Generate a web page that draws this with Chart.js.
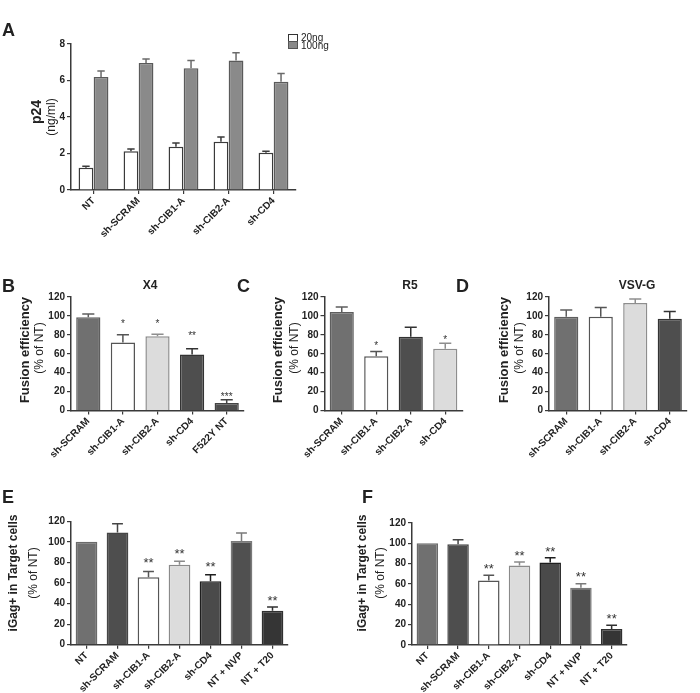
<!DOCTYPE html>
<html><head><meta charset="utf-8">
<script src="https://cdn.jsdelivr.net/npm/chart.js@4.4.1/dist/chart.umd.min.js"></script>
<style>
html,body{margin:0;padding:0;background:#fff;}
#wrap{position:relative;width:700px;height:693px;overflow:hidden;font-family:'Liberation Sans',Arial,sans-serif;color:#222;}
canvas{position:absolute;left:0;top:0;}
.lt{position:absolute;font-weight:bold;font-size:18px;line-height:1;}
.ttl{position:absolute;font-weight:bold;font-size:12px;line-height:1;transform:translate(-50%,-50%);white-space:nowrap;}
.yt{position:absolute;transform:translate(-50%,-50%) rotate(-90deg);white-space:nowrap;line-height:1;}
.leg{position:absolute;font-size:10px;line-height:1;white-space:nowrap;}
.box{position:absolute;width:8px;height:6px;border:1px solid #333;}
</style></head>
<body><div id="wrap">
<canvas id="cA" width="700" height="693"></canvas>
<canvas id="cB" width="700" height="693"></canvas>
<canvas id="cC" width="700" height="693"></canvas>
<canvas id="cD" width="700" height="693"></canvas>
<canvas id="cE" width="700" height="693"></canvas>
<canvas id="cF" width="700" height="693"></canvas>

<div class="lt" style="left:2px;top:21px">A</div>
<div class="lt" style="left:2px;top:277px">B</div>
<div class="lt" style="left:237px;top:277px">C</div>
<div class="lt" style="left:456px;top:277px">D</div>
<div class="lt" style="left:2px;top:488px">E</div>
<div class="lt" style="left:362px;top:488px">F</div>

<div class="ttl" style="left:150px;top:285px">X4</div>
<div class="ttl" style="left:410px;top:285px">R5</div>
<div class="ttl" style="left:637px;top:285px">VSV-G</div>

<div class="yt" style="left:36px;top:112px;font-weight:bold;font-size:14px">p24</div>
<div class="yt" style="left:51px;top:117px;font-size:12px">(ng/ml)</div>

<div class="yt" style="left:24px;top:350px;font-weight:bold;font-size:13px">Fusion efficiency</div>
<div class="yt" style="left:39px;top:348px;font-size:12px">(% of NT)</div>
<div class="yt" style="left:277px;top:350px;font-weight:bold;font-size:13px">Fusion efficiency</div>
<div class="yt" style="left:294px;top:348px;font-size:12px">(% of NT)</div>
<div class="yt" style="left:503px;top:350px;font-weight:bold;font-size:13px">Fusion efficiency</div>
<div class="yt" style="left:519px;top:348px;font-size:12px">(% of NT)</div>

<div class="yt" style="left:13px;top:573px;font-weight:bold;font-size:12px">iGag+ in Target cells</div>
<div class="yt" style="left:33px;top:573px;font-size:12px">(% of NT)</div>
<div class="yt" style="left:362px;top:573px;font-weight:bold;font-size:12px">iGag+ in Target cells</div>
<div class="yt" style="left:380px;top:573px;font-size:12px">(% of NT)</div>

<div class="box" style="left:288px;top:34px;background:#fff"></div>
<div class="box" style="left:288px;top:41px;background:#8a8a8a;border-color:#555"></div>
<div class="leg" style="left:301px;top:33px">20ng</div>
<div class="leg" style="left:301px;top:41px">100ng</div>
</div>
<script>
// ---------- DATA ----------
const catsA = ['NT', 'sh-SCRAM', 'sh-CIB1-A', 'sh-CIB2-A', 'sh-CD4'];
const seriesA20 = [1.22, 2.12, 2.37, 2.64, 2.04];
const errA20 = [1.30, 2.24, 2.57, 2.90, 2.13];
const seriesA100 = [6.19, 6.96, 6.67, 7.10, 5.93];
const errA100 = [6.52, 7.18, 7.09, 7.52, 6.38];
const ticksA = [0, 2, 4, 6, 8];

const catsB = ['sh-SCRAM', 'sh-CIB1-A', 'sh-CIB2-A', 'sh-CD4', 'F522Y NT'];
const valsB = [98.5, 72, 78.4, 59.3, 7.8];
const errB = [102, 80, 80.5, 65.3, 11.3];
const starsB = ['', '*', '*', '**', '***'];
const starPosB = [null, 93.7, 93.7, 81.8, 16.8];

const catsC = ['sh-SCRAM', 'sh-CIB1-A', 'sh-CIB2-A', 'sh-CD4'];
const valsC = [104.2, 57.3, 78, 65.4];
const errC = [109.5, 62.4, 88, 71];
const starsC = ['', '*', '', '*'];
const starPosC = [null, 71, null, 77.5];

const catsD = ['sh-SCRAM', 'sh-CIB1-A', 'sh-CIB2-A', 'sh-CD4'];
const valsD = [99.2, 99.2, 113.7, 97.1];
const errD = [106.2, 109, 117.9, 104.8];

const ticksPct = [0, 20, 40, 60, 80, 100, 120];

const catsE = ['NT', 'sh-SCRAM', 'sh-CIB1-A', 'sh-CIB2-A', 'sh-CD4', 'NT + NVP', 'NT + T20'];
const valsE = [100, 109, 65.5, 77.8, 61.8, 100.8, 33];
const errE = [null, 117.5, 71.3, 81.2, 68, 108.7, 36.7];
const starsE = ['', '', '**', '**', '**', '', '**'];
const starPosE = [null, null, 82.4, 91.4, 78.5, null, 45.7];

const catsF = ['NT', 'sh-SCRAM', 'sh-CIB1-A', 'sh-CIB2-A', 'sh-CD4', 'NT + NVP', 'NT + T20'];
const valsF = [100, 99, 63.5, 78.3, 81.2, 56.3, 15.8];
const errF = [null, 103.6, 68.7, 81.6, 85.9, 60.2, 19.4];
const starsF = ['', '', '**', '**', '**', '**', '**'];
const starPosF = [null, null, 78.3, 90.5, 94.7, 70, 29];

// ---------- STYLES ----------
const FONT = "'Liberation Sans', Arial, sans-serif";
const AX = '#3a3a3a';
const cMed = '#707070', cDark = '#4e4e4e', cLight = '#dcdcdc', cWhite = '#ffffff', cBlack = '#353535';
const fillB = [cMed, cWhite, cLight, cDark, cDark];
const edgeB = ['#5e5e5e', '#555555', '#8e8e8e', '#333333', '#444444'];
const fillC = [cMed, cWhite, cDark, cLight];
const edgeC = ['#5e5e5e', '#555555', '#333333', '#8e8e8e'];
const fillD = [cMed, cWhite, cLight, cDark];
const edgeD = ['#5e5e5e', '#555555', '#8e8e8e', '#333333'];
const fillE = [cMed, cDark, cWhite, cLight, '#4a4a4a', '#505050', cBlack];
const edgeE = ['#6a6a6a', '#454545', '#555555', '#8a8a8a', '#1e1e1e', '#7a7a7a', '#303030'];

// ---------- PLUGINS ----------
const errPlugin = {
  id: 'errbars',
  afterDatasetsDraw(chart) {
    const ctx = chart.ctx, ys = chart.scales.y;
    chart.data.datasets.forEach((ds, i) => {
      if (!ds.errTop) return;
      const meta = chart.getDatasetMeta(i);
      meta.data.forEach((el, j) => {
        const v = ds.errTop[j];
        if (v == null) return;
        const top = ys.getPixelForValue(v);
        const col = Array.isArray(ds.errColor) ? ds.errColor[j] : ds.errColor;
        const hw = el.width * 0.25;
        ctx.save();
        ctx.strokeStyle = col; ctx.lineWidth = 1.5;
        ctx.beginPath();
        ctx.moveTo(el.x, el.y); ctx.lineTo(el.x, top);
        ctx.moveTo(el.x - hw, top); ctx.lineTo(el.x + hw, top);
        ctx.stroke();
        ctx.restore();
      });
    });
  }
};
const starPlugin = {
  id: 'stars',
  afterDatasetsDraw(chart) {
    const ctx = chart.ctx, ys = chart.scales.y;
    chart.data.datasets.forEach((ds, i) => {
      if (!ds.stars) return;
      const meta = chart.getDatasetMeta(i);
      meta.data.forEach((el, j) => {
        const s = ds.stars[j];
        if (!s) return;
        const y = ys.getPixelForValue(ds.starPos[j]);
        ctx.save();
        ctx.fillStyle = '#333';
        ctx.font = ds.starSize + 'px ' + FONT;
        ctx.textAlign = 'center';
        ctx.textBaseline = 'alphabetic';
        ctx.fillText(s, el.x, y + ds.starSize * 0.55);
        ctx.restore();
      });
    });
  }
};
Chart.register(errPlugin, starPlugin);

// ---------- FACTORY ----------
function makeChart(id, area, cats, datasets, ymax, ticks, tickSize) {
  const W = 700, H = 693, yW = 40, xH = 70;
  return new Chart(document.getElementById(id), {
    type: 'bar',
    data: { labels: cats, datasets: datasets },
    options: {
      responsive: false, animation: false, devicePixelRatio: 1,
      layout: { padding: { left: area.L - yW, right: W - area.R, top: area.T, bottom: H - area.B - xH } },
      plugins: { legend: { display: false }, tooltip: { enabled: false } },
      scales: {
        x: {
          offset: true,
          grid: { display: true, drawOnChartArea: false, drawTicks: true, tickLength: 4, color: AX, lineWidth: 1.2, offset: false },
          border: { display: true, color: AX, width: 1.5 },
          ticks: { autoSkip: false, minRotation: 45, maxRotation: 45, padding: 1, color: '#222',
                   font: { family: FONT, weight: 'bold', size: tickSize } },
          afterFit: s => { s.height = xH; }
        },
        y: {
          min: 0, max: ymax,
          afterBuildTicks: s => { s.ticks = ticks.map(v => ({ value: v })); },
          grid: { display: true, drawOnChartArea: false, drawTicks: true, tickLength: 4, color: AX, lineWidth: 1.2 },
          border: { display: true, color: AX, width: 1.5 },
          ticks: { padding: 2, color: '#222', font: { family: FONT, weight: 'bold', size: tickSize } },
          afterFit: s => { s.width = yW; }
        }
      }
    }
  });
}

function single(vals, err, fills, edges, stars, starPos, starSize) {
  return [{
    data: vals, errTop: err, errColor: edges,
    stars: stars, starPos: starPos, starSize: starSize,
    backgroundColor: fills, borderColor: edges, borderWidth: 1.5,
    barPercentage: 0.7, categoryPercentage: 1
  }];
}

makeChart('cA', { L: 71, R: 296, T: 44, B: 190 }, catsA, [
  { label: '20ng', data: seriesA20, errTop: errA20, errColor: '#3a3a3a',
    backgroundColor: '#ffffff', borderColor: '#3a3a3a', borderWidth: 1.5,
    barPercentage: 0.98, categoryPercentage: 0.67 },
  { label: '100ng', data: seriesA100, errTop: errA100, errColor: '#6a6a6a',
    backgroundColor: '#8a8a8a', borderColor: '#5a5a5a', borderWidth: 1.5,
    barPercentage: 0.98, categoryPercentage: 0.67 }
], 8, ticksA, 10);

makeChart('cB', { L: 71, R: 244, T: 297, B: 410.5 }, catsB,
  single(valsB, errB, fillB, edgeB, starsB, starPosB, 10), 120, ticksPct, 10);
makeChart('cC', { L: 324.5, R: 462.5, T: 297, B: 410.5 }, catsC,
  single(valsC, errC, fillC, edgeC, starsC, starPosC, 10), 120, ticksPct, 10);
makeChart('cD', { L: 549, R: 687, T: 297, B: 410.5 }, catsD,
  single(valsD, errD, fillD, edgeD, null, null, 10), 120, ticksPct, 10);
makeChart('cE', { L: 71, R: 288, T: 521.3, B: 644.7 }, catsE,
  single(valsE, errE, fillE, edgeE, starsE, starPosE, 13), 120, ticksPct, 10);
makeChart('cF', { L: 412, R: 627, T: 523, B: 645 }, catsF,
  single(valsF, errF, fillE, edgeE, starsF, starPosF, 13), 120, ticksPct, 10);
</script>
</body></html>
